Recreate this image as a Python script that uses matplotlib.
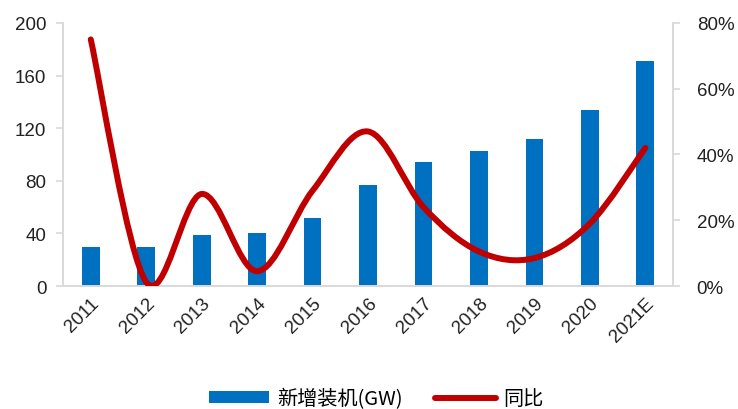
import matplotlib
matplotlib.use("Agg")
import matplotlib.pyplot as plt
from matplotlib.path import Path
from matplotlib.patches import PathPatch, Patch
from matplotlib.lines import Line2D
from matplotlib.ticker import FuncFormatter

plt.rcParams['font.family'] = ['Liberation Sans', 'Noto Sans CJK SC', 'DejaVu Sans']

# data
years = ["2011", "2012", "2013", "2014", "2015", "2016", "2017", "2018", "2019", "2020", "2021E"]
new_gw = [30, 30, 38.5, 40, 52, 76.5, 94, 103, 112, 133.5, 171]
yoy_pct = [75, 1.2, 28, 4.5, 29, 47, 24, 10.5, 8.5, 19, 42]

bar_color = "#0070C0"
line_color = "#C00000"
grid_gray = "#D9D9D9"


def smooth_path(xs, ys):
    # excel-style smoothed line drawn as cubic bezier segments
    n = len(xs)
    verts = [(xs[0], ys[0])]
    codes = [Path.MOVETO]
    for i in range(n - 1):
        i0 = max(i - 1, 0)
        i3 = min(i + 2, n - 1)
        c1 = (xs[i] + (xs[i + 1] - xs[i0]) / 6, ys[i] + (ys[i + 1] - ys[i0]) / 6)
        c2 = (xs[i + 1] - (xs[i3] - xs[i]) / 6, ys[i + 1] - (ys[i3] - ys[i]) / 6)
        verts += [c1, c2, (xs[i + 1], ys[i + 1])]
        codes += [Path.CURVE4] * 3
    return Path(verts, codes)


fig = plt.figure(figsize=(7.38, 4.10), dpi=100)
ax = fig.add_axes([0.0854, 0.30, 0.8266, 0.6415])
ax2 = ax.twinx()

x = list(range(len(years)))
ax.bar(x, new_gw, width=0.32, color=bar_color, zorder=2)
ax.set_xlim(-0.5, len(years) - 0.5)
ax.set_ylim(0, 200)
ax.set_yticks([0, 40, 80, 120, 160, 200])
ax.set_xticks(x)
ax.set_xticklabels(years, rotation=45, ha="right", rotation_mode="anchor")

patch = PathPatch(smooth_path(x, yoy_pct), facecolor="none", edgecolor=line_color,
                  lw=4.3, capstyle="round", joinstyle="round", zorder=3)
ax2.add_patch(patch)
ax2.set_ylim(0, 80)
ax2.set_yticks([0, 20, 40, 60, 80])
ax2.yaxis.set_major_formatter(FuncFormatter(lambda v, p: f"{v:.0f}%"))

for a in (ax, ax2):
    a.spines["top"].set_visible(False)
    for s in ("left", "right", "bottom"):
        a.spines[s].set_color(grid_gray)
        a.spines[s].set_linewidth(1.2)
    a.tick_params(axis="y", colors=grid_gray, labelcolor="#222222", labelsize=13.5, length=5, width=1.2)
    a.tick_params(axis="x", length=0, labelsize=13.5, labelcolor="#222222", pad=6)
ax.tick_params(axis="y", pad=7)
ax2.tick_params(axis="y", pad=12)

handles = [Patch(facecolor=bar_color, edgecolor="none"),
           Line2D([0], [0], color=line_color, lw=4.3, solid_capstyle="round")]
fig.legend(handles, ["新增装机(GW)", "同比"], loc="center", bbox_to_anchor=(0.51, 0.025),
           ncol=2, frameon=False, handlelength=3.0, handleheight=0.55,
           handletextpad=0.4, columnspacing=1.6,
           prop={"family": ["Noto Sans CJK SC", "DejaVu Sans"], "size": 14.5})

fig.savefig("out.png", dpi=100)
